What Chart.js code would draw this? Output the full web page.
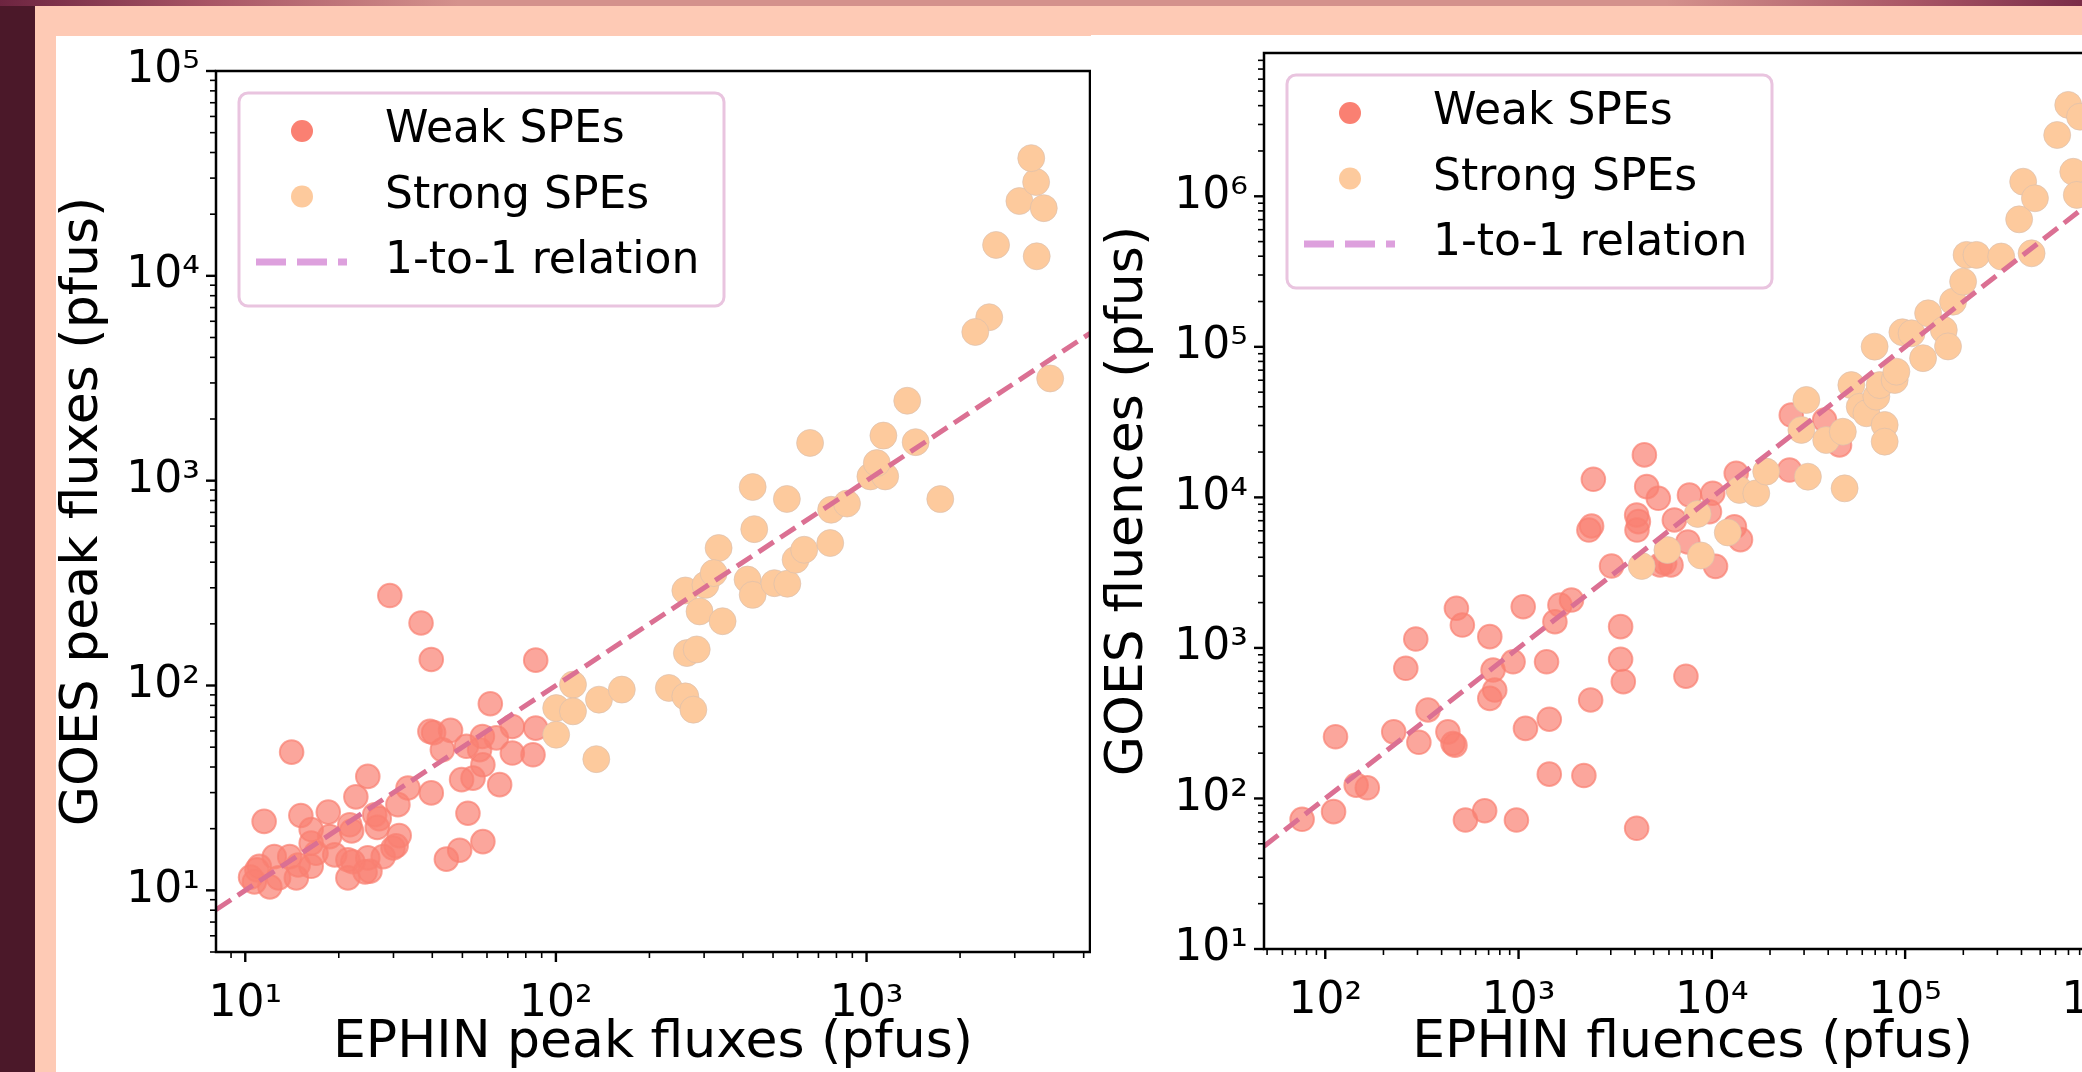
<!DOCTYPE html>
<html>
<head>
<meta charset="utf-8">
<script src="https://cdn.jsdelivr.net/npm/chart.js@4.4.1/dist/chart.umd.min.js"></script>
<style>
  html, body { margin: 0; padding: 0; overflow: hidden; }
  body { position: relative; width: 2082px; height: 1072px; background: #fecab5; }
  #strip { position: absolute; left: 0; top: 0; width: 35px; height: 1072px; background: #4b1829; }
  #topbar { position: absolute; left: 0; top: 0; width: 2082px; height: 6px;
    background: linear-gradient(90deg, #6d2440 0%, #a85565 10%, #d4918c 22%, #d4918c 80%, #a85565 92%, #7a2c48 100%); }
  .panel { position: absolute; background: #fff; overflow: visible; }
  #leftPanel { left: 56px; top: 36px; width: 1035px; height: 1036px; }
  #rightPanel { left: 1091px; top: 35px; width: 1060px; height: 1037px; }
  canvas { position: absolute; left: 0; top: 0; }
</style>
</head>
<body>
<div id="strip"></div>
<div id="topbar"></div>
<div class="panel" id="leftPanel"><canvas id="peakChart" width="1036" height="1036"></canvas></div>
<div class="panel" id="rightPanel"><canvas id="fluenceChart" width="1060" height="1037"></canvas></div>
<script>
// EPHIN vs GOES peak fluxes, [EPHIN, GOES] in pfu
const weakPeaks = [
  [29.2, 275], [36.8, 202], [39.7, 134], [86.1, 133], [14.1, 47.3], [61.5, 81.5], [11.5, 21.7],
  [24.8, 36.0], [22.7, 28.6], [33.4, 31.6], [39.7, 29.9], [31.0, 26.2], [15.1, 23.2], [18.5, 24.1],
  [16.3, 19.8], [21.7, 20.9], [22.0, 19.5], [26.1, 23.4], [26.6, 20.3], [31.3, 18.5], [30.6, 16.5],
  [52.1, 23.8], [39.3, 59.7], [40.4, 58.9], [45.8, 60.4], [43.1, 48.6], [51.5, 50.5], [56.8, 48.6],
  [58.2, 41.0], [49.7, 34.7], [54.1, 35.3], [65.9, 32.8], [72.4, 63.1], [64.3, 55.5], [72.4, 46.8],
  [86.1, 61.9], [84.4, 45.9], [44.4, 14.2], [49.0, 15.7], [58.2, 17.3], [10.9, 12.6], [10.7, 11.0],
  [12.0, 10.4], [12.4, 14.6], [12.8, 11.5], [13.9, 14.6], [14.6, 11.5], [14.8, 13.3], [16.3, 13.1],
  [16.3, 17.0], [16.9, 15.2], [18.7, 18.3], [19.4, 14.9], [21.4, 14.1], [21.4, 11.5], [22.2, 13.8],
  [24.8, 14.4], [25.2, 12.4], [27.8, 14.6], [11.1, 13.1], [29.9, 16.1], [27.0, 22.4], [58.0, 56.4],
  [24.3, 12.3], [10.4, 11.6]
];
const strongPeaks = [
  [113.5, 101], [100.2, 77.6], [113.5, 74.8], [137.6, 85.3], [100.2, 57.5], [134.9, 43.7], [163, 95.5],
  [264, 144], [284, 150], [231, 97.3], [261, 88.5], [277, 76.2], [261, 291], [303, 310], [290, 230],
  [344, 206], [334, 469], [322, 354], [414, 329], [430, 277], [505, 316], [556, 314], [591, 411],
  [630, 460], [764, 496], [435, 580], [430, 931], [554, 814], [769, 721], [865, 773], [658, 1528],
  [1029, 1049], [1148, 1049], [1079, 1219], [1133, 1660], [1439, 1542], [1352, 2456], [1727, 813],
  [2483, 6280], [2239, 5320], [3900, 3155], [2612, 14150], [3530, 12460], [3105, 23180],
  [3720, 21400], [3515, 28700], [3390, 37550]
];

// EPHIN vs GOES fluences, [EPHIN, GOES] in pfu
const weakFluences = [
  [4477, 19150], [2438, 13180], [4603, 11780], [5286, 9860], [2388, 6457], [4083, 7640], [4169, 6900],
  [3027, 3500], [5395, 3556], [1879, 2080], [1637, 1928], [1542, 1493], [1057, 1879], [477, 1833],
  [512, 1419], [710, 1188], [294, 1146], [261, 732], [937, 809], [738, 713], [753, 525], [710, 462],
  [1396, 809], [3373, 1384], [3373, 840], [3483, 597], [2361, 451], [1442, 336], [1086, 292],
  [340, 387], [226, 277], [305, 236], [431, 277], [458, 232], [469, 226], [113, 257], [144.5, 122.7],
  [165, 117.8], [110.4, 81.7], [75.9, 72.7], [1442, 145], [2178, 142], [531, 71.9], [668, 82.9],
  [975, 71.9], [4083, 63.4], [7345, 649], [10450, 3483], [14070, 5240], [7516, 5055], [5700, 3673],
  [2312, 6068], [4100, 6068], [6397, 7080], [7660, 10380], [10110, 10650], [9723, 8035],
  [13090, 6385], [6150, 3556], [13370, 14450], [25760, 35230], [38310, 32630], [45780, 22290],
  [25230, 15200]
];
const strongFluences = [
  [4335, 3500], [5890, 4467], [8790, 4110], [12090, 5850], [8450, 7760], [13900, 11200],
  [16980, 10650], [19110, 14830], [30830, 44360], [29060, 28050], [31410, 13720], [48630, 11480],
  [39060, 24030], [47610, 27290], [52690, 55710], [58210, 39980], [63070, 36200], [78380, 30280],
  [78380, 23450], [70990, 46690], [73830, 55710], [88300, 60200], [90130, 68400], [69530, 100300],
  [96800, 125000], [108000, 123000], [123800, 84100], [131500, 167000], [158500, 129400],
  [166700, 100600], [177000, 199600], [199500, 271000], [207900, 407900], [234000, 407900],
  [314100, 398000], [389000, 703000], [408000, 1250000], [469500, 970000], [451200, 418000],
  [612000, 2553000], [698000, 4046000], [803000, 3380000], [741000, 1455000], [773000, 1021000]
];

// axis limits and tick labels
const peakXRange = [8.05, 5240];
const peakYRange = [5, 1e5];
const fluenceXRange = [48.2, 1.315e6];
const fluenceYRange = [10, 8.95e6];
const peakXTicks = [1e1, 1e2, 1e3];
const peakYTicks = [1e1, 1e2, 1e3, 1e4, 1e5];
const fluenceXTicks = [1e2, 1e3, 1e4, 1e5, 1e6];
const fluenceYTicks = [1e1, 1e2, 1e3, 1e4, 1e5, 1e6];

const WEAK = 'rgba(250, 128, 114, 0.7)';
const WEAK_SOLID = '#fa8072';
const STRONG = '#fdca9d';
const LINE = '#db7093';
const LINE_LEGEND = '#dda0dd';

const SUP = { '0': '\u2070', '1': '\u00b9', '2': '\u00b2', '3': '\u00b3', '4': '\u2074',
  '5': '\u2075', '6': '\u2076', '7': '\u2077', '8': '\u2078', '9': '\u2079', '-': '\u207b' };
const powerLabel = v => '10' + String(Math.round(Math.log10(v))).split('').map(c => SUP[c]).join('');

const tickFont = { family: 'DejaVu Sans', size: 44, lineHeight: 1 };
const titleFont = { family: 'DejaVu Sans', size: 52, lineHeight: 1 };

// black box around the axes plus outward major/minor ticks
const frameAndTicks = {
  id: 'frameAndTicks',
  afterDraw(chart) {
    const { ctx, chartArea: a, scales } = chart;
    ctx.save();
    ctx.strokeStyle = '#000';
    const mark = (scale, horizontal) => {
      const lo = Math.floor(Math.log10(scale.min));
      const hi = Math.ceil(Math.log10(scale.max));
      for (let d = lo; d <= hi; d++) {
        for (let k = 1; k < 10; k++) {
          const v = k * Math.pow(10, d);
          if (v < scale.min * 0.999 || v > scale.max * 1.001) continue;
          const p = scale.getPixelForValue(v);
          const len = k === 1 ? 10 : 6;
          ctx.lineWidth = k === 1 ? 2.4 : 1.6;
          ctx.beginPath();
          if (horizontal) { ctx.moveTo(p, a.bottom); ctx.lineTo(p, a.bottom + len); }
          else { ctx.moveTo(a.left, p); ctx.lineTo(a.left - len, p); }
          ctx.stroke();
        }
      }
    };
    mark(scales.x, true);
    mark(scales.y, false);
    ctx.lineWidth = 2.5;
    ctx.strokeRect(a.left, a.top, a.right - a.left, a.bottom - a.top);
    ctx.restore();
  }
};

// framed legend in the upper left corner of the axes
const legendBox = {
  id: 'legendBox',
  afterDraw(chart) {
    const { ctx, chartArea: a } = chart;
    const bx = a.left + 23, by = a.top + 22, bw = 485, bh = 213;
    ctx.save();
    ctx.beginPath();
    ctx.roundRect(bx, by, bw, bh, 9);
    ctx.fillStyle = 'rgba(255,255,255,0.85)';
    ctx.fill();
    ctx.lineWidth = 3;
    ctx.strokeStyle = '#e9c4df';
    ctx.stroke();
    ctx.font = '44px "DejaVu Sans"';
    ctx.textBaseline = 'middle';
    [2, 1, 0].forEach((idx, row) => {
      const ds = chart.data.datasets[idx];
      const cy = by + 38 + row * 65.5;
      if (ds.type === 'line') {
        ctx.strokeStyle = ds.legendColor;
        ctx.lineWidth = 7;
        ctx.setLineDash([30, 11]);
        ctx.beginPath();
        ctx.moveTo(bx + 17, cy);
        ctx.lineTo(bx + 108, cy);
        ctx.stroke();
        ctx.setLineDash([]);
      } else {
        ctx.fillStyle = ds.legendColor;
        ctx.beginPath();
        ctx.arc(bx + 63, cy, 11, 0, Math.PI * 2);
        ctx.fill();
      }
      ctx.fillStyle = '#000';
      ctx.fillText(ds.label, bx + 146, cy);
    });
    ctx.restore();
  }
};

function scatterPanel(id, weak, strong, xr, yr, xt, yt, xTitle, yTitle, box) {
  return new Chart(document.getElementById(id), {
    type: 'scatter',
    data: {
      datasets: [
        {
          type: 'line', label: '1-to-1 relation',
          data: [{ x: xr[0], y: xr[0] }, { x: xr[1], y: xr[1] }],
          borderColor: LINE, borderWidth: 5, borderDash: [18, 8],
          pointRadius: 0, fill: false, order: 0, legendColor: LINE_LEGEND
        },
        {
          label: 'Strong SPEs', data: strong.map(([x, y]) => ({ x, y })),
          backgroundColor: STRONG, borderColor: 'rgba(215, 190, 175, 0.6)', borderWidth: 1,
          pointRadius: 13.5, order: 1, legendColor: STRONG
        },
        {
          label: 'Weak SPEs', data: weak.map(([x, y]) => ({ x, y })),
          backgroundColor: WEAK, borderColor: WEAK, borderWidth: 2,
          pointRadius: 11.8, order: 2, legendColor: WEAK_SOLID
        }
      ]
    },
    options: {
      responsive: false,
      animation: false,
      events: [],
      layout: { autoPadding: false, padding: { left: 0, top: box.top, right: box.right, bottom: 0 } },
      plugins: { legend: { display: false }, tooltip: { enabled: false } },
      scales: {
        x: {
          type: 'logarithmic', position: 'bottom', min: xr[0], max: xr[1],
          grid: { display: false, drawTicks: false },
          border: { display: false },
          afterBuildTicks: s => { s.ticks = xt.map(v => ({ value: v })); },
          afterFit: s => { s.height = box.xHeight; s.paddingLeft = 0; s.paddingRight = 0; },
          ticks: { callback: v => powerLabel(v), autoSkip: false, maxRotation: 0, minRotation: 0,
            padding: 31, color: '#000', font: tickFont },
          title: { display: true, text: xTitle, color: '#000', font: titleFont, padding: { top: 0, bottom: 3 } }
        },
        y: {
          type: 'logarithmic', position: 'left', min: yr[0], max: yr[1],
          grid: { display: false, drawTicks: false },
          border: { display: false },
          afterBuildTicks: s => { s.ticks = yt.map(v => ({ value: v })); },
          afterFit: s => { s.width = box.yWidth; s.paddingTop = 0; s.paddingBottom = 0; },
          ticks: { callback: v => powerLabel(v), autoSkip: false, padding: 16, color: '#000', font: tickFont },
          title: { display: true, text: yTitle, color: '#000', font: titleFont, padding: { top: box.yTitlePad, bottom: 0 } }
        }
      }
    },
    plugins: [frameAndTicks, legendBox]
  });
}

scatterPanel('peakChart', weakPeaks, strongPeaks, peakXRange, peakYRange, peakXTicks, peakYTicks,
  'EPHIN peak fluxes (pfus)', 'GOES peak fluxes (pfus)',
  { top: 35, right: 2, xHeight: 120, yWidth: 160, yTitlePad: 1.5 });

scatterPanel('fluenceChart', weakFluences, strongFluences, fluenceXRange, fluenceYRange, fluenceXTicks, fluenceYTicks,
  'EPHIN fluences (pfus)', 'GOES fluences (pfus)',
  { top: 18, right: 29.6, xHeight: 123, yWidth: 173, yTitlePad: 11.5 });
</script>
</body>
</html>
